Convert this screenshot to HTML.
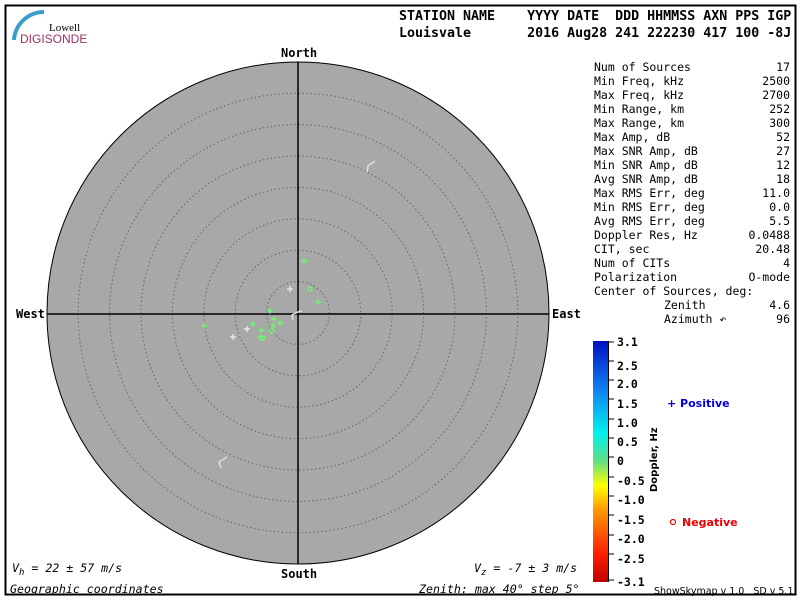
<!DOCTYPE html>
<html><head><meta charset="utf-8"><style>
body{margin:0;background:#fff}
svg text{font-family:"DejaVu Sans Mono","Liberation Mono",monospace}
</style></head><body>
<svg width="800" height="600" xmlns="http://www.w3.org/2000/svg">
<defs><linearGradient id="g" x1="0" y1="1" x2="0" y2="0">
<stop offset="0" stop-color="#c00000"/><stop offset="0.12" stop-color="#ff2000"/><stop offset="0.3" stop-color="#ff9900"/><stop offset="0.4" stop-color="#ffff00"/><stop offset="0.5" stop-color="#60e080"/><stop offset="0.62" stop-color="#00f0f0"/><stop offset="0.8" stop-color="#1080f0"/><stop offset="1" stop-color="#0010c0"/></linearGradient></defs>
<rect x="5.5" y="5.5" width="790" height="589" fill="#fff" stroke="#000" stroke-width="2"/>
<path d="M14 40 A30 30 0 0 1 44 12" stroke="#3aa0c8" stroke-width="4" fill="none"/>
<text x="49" y="31" font-size="11" style="font-family:'Liberation Serif'">Lowell</text>
<text x="20" y="43" fill="#a0306a" font-size="12" style="font-family:'Liberation Sans'">DIGISONDE</text>
<text x="399" y="20" font-size="13.3" font-weight="bold" xml:space="preserve">STATION NAME    YYYY DATE  DDD HHMMSS AXN PPS IGP</text>
<text x="399" y="37" font-size="13.3" font-weight="bold" xml:space="preserve">Louisvale       2016 Aug28 241 222230 417 100 -8J</text>
<circle cx="298" cy="313" r="251" fill="#a8a8a8" stroke="#000" stroke-width="1"/>
<g fill="none" stroke="#666" stroke-width="1" stroke-dasharray="1.5 2.5">
<circle cx="298" cy="313" r="31.4"/><circle cx="298" cy="313" r="62.8"/><circle cx="298" cy="313" r="94.2"/><circle cx="298" cy="313" r="125.6"/><circle cx="298" cy="313" r="157"/><circle cx="298" cy="313" r="188.4"/><circle cx="298" cy="313" r="219.8"/></g>
<line x1="298" y1="62" x2="298" y2="564" stroke="#000" stroke-width="1.5"/>
<line x1="47" y1="314" x2="549" y2="314" stroke="#000" stroke-width="1.5"/>
<g font-size="12" font-weight="bold"><text x="281" y="57">North</text><text x="281" y="578">South</text><text x="16" y="318">West</text><text x="552" y="318">East</text></g>
<g stroke="#ddd" stroke-width="1.5" fill="none"><path d="M367 172 L368 166 L375 161"/><path d="M221 468 L219 462 L227 457"/><path d="M293 320 L292 315 L298 312 L302 311"/></g>
<g stroke="#6f6" stroke-width="1.2" fill="none">
<path d="M304 258v6M301 261h6M318 299v6M315 302h6M270 308v6M267 311h6M274 316v6M271 319h6M280 320v6M277 323h6M273 323v6M270 326h6M253 321v6M250 324h6M261 327v6M258 330h6M204 323v6M201 326h6M260 334v6M257 337h6"/>
<circle cx="310" cy="289" r="2"/><circle cx="272" cy="331" r="2"/><circle cx="263" cy="338" r="2"/></g>
<g stroke="#eee" stroke-width="1.2"><path d="M290 286v6M287 289h6M247 326v6M244 329h6M233 334v6M230 337h6"/></g>
<g font-size="11.5" xml:space="preserve">
<text x="594" y="71">Num of Sources</text><text x="790" y="71" text-anchor="end">17</text>
<text x="594" y="85">Min Freq, kHz</text><text x="790" y="85" text-anchor="end">2500</text>
<text x="594" y="99">Max Freq, kHz</text><text x="790" y="99" text-anchor="end">2700</text>
<text x="594" y="113">Min Range, km</text><text x="790" y="113" text-anchor="end">252</text>
<text x="594" y="127">Max Range, km</text><text x="790" y="127" text-anchor="end">300</text>
<text x="594" y="141">Max Amp, dB</text><text x="790" y="141" text-anchor="end">52</text>
<text x="594" y="155">Max SNR Amp, dB</text><text x="790" y="155" text-anchor="end">27</text>
<text x="594" y="169">Min SNR Amp, dB</text><text x="790" y="169" text-anchor="end">12</text>
<text x="594" y="183">Avg SNR Amp, dB</text><text x="790" y="183" text-anchor="end">18</text>
<text x="594" y="197">Max RMS Err, deg</text><text x="790" y="197" text-anchor="end">11.0</text>
<text x="594" y="211">Min RMS Err, deg</text><text x="790" y="211" text-anchor="end">0.0</text>
<text x="594" y="225">Avg RMS Err, deg</text><text x="790" y="225" text-anchor="end">5.5</text>
<text x="594" y="239">Doppler Res, Hz</text><text x="790" y="239" text-anchor="end">0.0488</text>
<text x="594" y="253">CIT, sec</text><text x="790" y="253" text-anchor="end">20.48</text>
<text x="594" y="267">Num of CITs</text><text x="790" y="267" text-anchor="end">4</text>
<text x="594" y="281">Polarization</text><text x="790" y="281" text-anchor="end">O-mode</text>
<text x="594" y="295">Center of Sources, deg:</text>
<text x="664" y="309">Zenith</text><text x="790" y="309" text-anchor="end">4.6</text>
<text x="664" y="323">Azimuth ↶</text><text x="790" y="323" text-anchor="end">96</text>
</g>
<rect x="593" y="341" width="15" height="241" fill="url(#g)"/>
<g stroke="#000" stroke-width="1"><line x1="608.5" y1="341" x2="608.5" y2="582"/>
<path d="M608 342h6M608 361h6M608 380h6M608 399h6M608 419h6M608 438h6M608 457h6M608 477h6M608 496h6M608 515h6M608 535h6M608 554h6M608 580h6"/></g>
<g font-size="11.5" font-weight="bold">
<text x="617" y="346">3.1</text><text x="617" y="370">2.5</text><text x="617" y="388">2.0</text><text x="617" y="408">1.5</text><text x="617" y="427">1.0</text><text x="617" y="446">0.5</text><text x="617" y="465">0</text><text x="617" y="485">-0.5</text><text x="617" y="504">-1.0</text><text x="617" y="524">-1.5</text><text x="617" y="543">-2.0</text><text x="617" y="563">-2.5</text><text x="617" y="586">-3.1</text></g>
<text transform="translate(657,492) rotate(-90)" font-size="10" font-weight="bold" style="font-family:'DejaVu Sans'">Doppler, Hz</text>
<text x="667" y="407" font-size="11" font-weight="bold" fill="#0000dd" style="font-family:'DejaVu Sans'">+ Positive</text>
<circle cx="673" cy="522" r="2.5" fill="none" stroke="#e00" stroke-width="1.2"/>
<text x="682" y="526" font-size="11" font-weight="bold" fill="#e00" style="font-family:'DejaVu Sans'">Negative</text>
<text x="654" y="594" font-size="9.5" style="font-family:'DejaVu Sans'" xml:space="preserve">ShowSkymap v 1.0   SD v 5.1</text>
<g font-size="11.6" font-style="italic"><text x="12" y="572">V<tspan font-size="9" dy="3">h</tspan><tspan dy="-3"> = 22 ± 57 m/s</tspan></text>
<text x="474" y="572">V<tspan font-size="9" dy="3">z</tspan><tspan dy="-3"> = -7 ± 3 m/s</tspan></text>
<text x="10" y="593">Geographic coordinates</text><text x="419" y="593">Zenith: max 40°  step 5°</text></g>
</svg>
</body></html>
